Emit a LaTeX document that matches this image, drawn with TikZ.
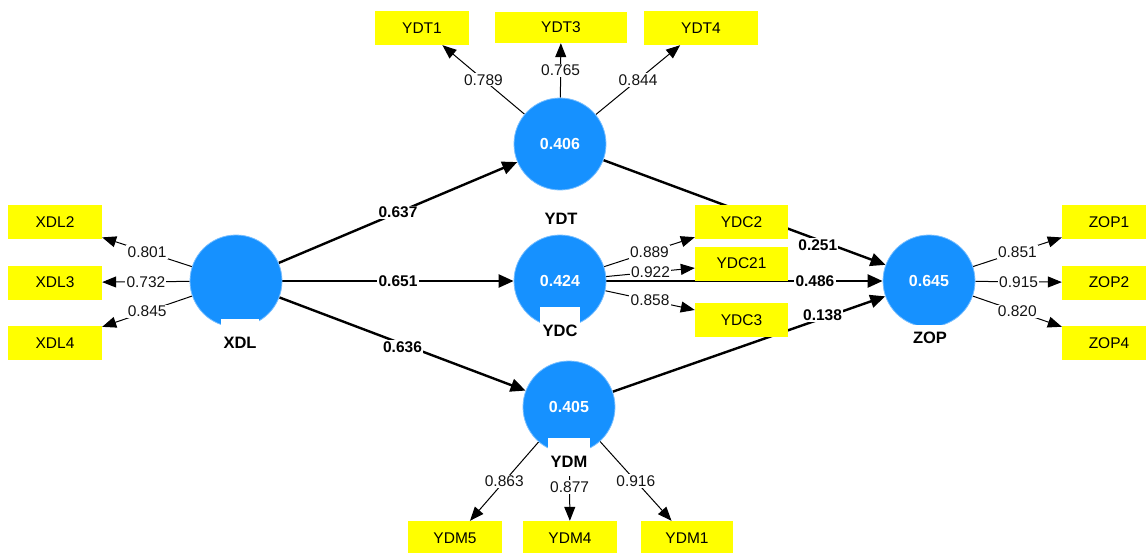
\documentclass[tikz,border=0pt]{standalone}
\usepackage{fontspec}
\setmainfont{Liberation Sans}
\usetikzlibrary{arrows.meta}
\definecolor{lvblue}{RGB}{22,145,255}
\definecolor{lvedge}{RGB}{120,190,255}
\definecolor{indyellow}{RGB}{255,255,0}
\pgfdeclarelayer{edges}
\pgfsetlayers{edges,main}
\begin{document}
\begin{tikzpicture}[x=1pt,y=-1pt,
  lv/.style={circle, fill=lvblue, draw=lvedge, line width=0.8pt, minimum size=92pt, inner sep=0pt, text=white, font=\fontsize{16}{18}\selectfont\bfseries},
  ind/.style={rectangle, fill=indyellow, minimum width=94pt, minimum height=34pt, inner sep=0pt, font=\fontsize{15.5}{18}\selectfont},
  lvname/.style={fill=white, inner xsep=2.5pt, inner ysep=0pt, text height=29pt, text depth=9pt, anchor=base, font=\fontsize{16.5}{19}\selectfont\bfseries},
  load/.style={fill=white, inner sep=1.2pt, text=black!92, font=\fontsize{15.5}{18}\selectfont},
  coef/.style={fill=white, inner sep=1.2pt, font=\fontsize{15.5}{18}\selectfont\bfseries},
  loadline/.style={line width=1pt, draw=black, -{Triangle[length=14pt,width=11pt]}},
  pathline/.style={line width=2.4pt, -{Triangle[length=15pt,width=13pt]}}
]
\useasboundingbox (0,0) rectangle (1146,552);
\clip (0,0) rectangle (1146,552);

% latent variables
\node[lv] (XDL) at (236,281) {};
\node[lv] (YDT) at (560,144) {0.406};
\node[lv] (YDC) at (560,281) {0.424};
\node[lv] (YDM) at (569,407) {0.405};
\node[lv] (ZOP) at (929,281) {0.645};

% names
\node[lvname] (XDLn) at (240,348) {XDL};
\node[lvname, text height=12pt, text depth=3pt] (YDTn) at (561,224) {YDT};
\node[lvname, text depth=4pt] (YDCn) at (560,336) {YDC};
\node[lvname] (YDMn) at (569,467) {YDM};
\node[lvname, text height=18pt] (ZOPn) at (930,343) {ZOP};

% indicators
\node[ind] (XDL2) at (55,222) {XDL2};
\node[ind] (XDL3) at (55,282.5) {XDL3};
\node[ind] (XDL4) at (55,343) {XDL4};
\node[ind] (YDT1) at (422,28) {YDT1};
\node[ind, minimum width=132pt, minimum height=31pt] (YDT3) at (561,27.5) {YDT3};
\node[ind, minimum width=114pt] (YDT4) at (701,28) {YDT4};
\node[ind, minimum width=93pt] (YDC2) at (741.5,222) {YDC2};
\node[ind, minimum width=93pt] (YDC21) at (741.5,263.5) {YDC21};
\node[ind, minimum width=93pt] (YDC3) at (741.5,320) {YDC3};
\node[ind] (YDM5) at (455,538) {YDM5};
\node[ind] (YDM4) at (570,538) {YDM4};
\node[ind, minimum width=92pt] (YDM1) at (687,538) {YDM1};
\node[ind] (ZOP1) at (1109,222) {ZOP1};
\node[ind] (ZOP2) at (1109,282.5) {ZOP2};
\node[ind] (ZOP4) at (1109,343) {ZOP4};

\begin{pgfonlayer}{edges}
% structural paths
\draw[pathline] (XDL) -- node[coef]{0.637} (YDT);
\draw[pathline] (XDL) -- node[coef]{0.651} (YDC);
\draw[pathline] (XDL) -- node[coef,yshift=-3pt]{0.636} (YDM);
\draw[pathline] (YDT) -- node[coef,pos=0.76,yshift=-5pt]{0.251} (ZOP);
\draw[pathline] (YDC) -- node[coef,pos=0.755]{0.486} (ZOP);
\draw[pathline] (YDM) -- node[coef,pos=0.77,yshift=3pt]{0.138} (ZOP);
% loadings
\draw[loadline] (XDL) -- node[load]{0.801} (XDL2);
\draw[loadline] (XDL) -- node[load]{0.732} (XDL3);
\draw[loadline] (XDL) -- node[load]{0.845} (XDL4);
\draw[loadline] (YDT) -- node[load]{0.789} (YDT1);
\draw[loadline] (YDT) -- node[load]{0.765} (YDT3);
\draw[loadline] (YDT) -- node[load]{0.844} (YDT4);
\draw[loadline] (YDC) -- node[load]{0.889} (YDC2);
\draw[loadline] (YDC) -- node[load]{0.922} (YDC21);
\draw[loadline] (YDC) -- node[load]{0.858} (YDC3);
\draw[loadline] (YDM) -- node[load]{0.863} (YDM5);
\draw[loadline] (YDM) -- node[load]{0.877} (YDM4);
\draw[loadline] (YDM) -- node[load]{0.916} (YDM1);
\draw[loadline] (ZOP) -- node[load]{0.851} (ZOP1);
\draw[loadline] (ZOP) -- node[load]{0.915} (ZOP2);
\draw[loadline] (ZOP) -- node[load]{0.820} (ZOP4);
\end{pgfonlayer}
\end{tikzpicture}
\end{document}
